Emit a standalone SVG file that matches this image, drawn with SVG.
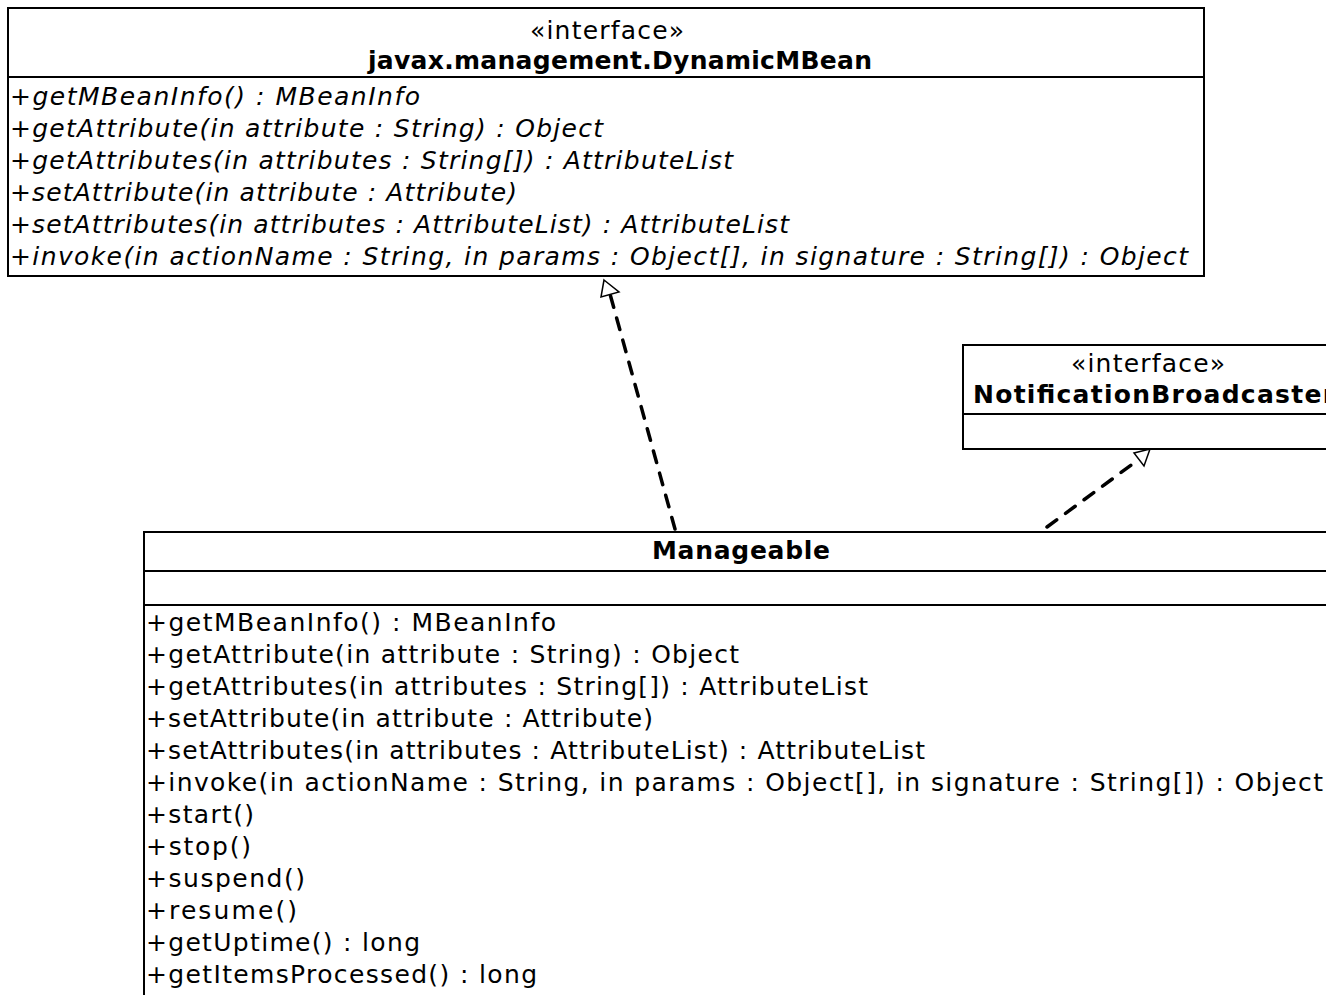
<svg xmlns="http://www.w3.org/2000/svg" width="1326" height="995" viewBox="0 0 1326 995">
<style>
.box{fill:#fff;stroke:#000;stroke-width:2}
.sep{stroke:#000;stroke-width:2}
text{font-family:"DejaVu Sans",Verdana,sans-serif;font-size:25px;fill:#000}
.c{text-anchor:middle}
.b{font-weight:bold}
.i{font-style:italic}
.dep{fill:none;stroke:#000;stroke-width:3.5;stroke-linecap:round;stroke-dasharray:12 11}
.head{fill:#fff;stroke:#000;stroke-width:1.5;stroke-linejoin:miter}
</style>
<rect width="1326" height="995" fill="#fff"/>
<g id="connectors">
<path class="dep" d="M675,529 L610,294"/>
<path class="head" d="M604,280 L619,292 L601,297 Z"/>
<path class="dep" d="M1047,527 L1138,460"/>
<path class="head" d="M1150,449 L1144,466 L1134,453 Z"/>
</g>
<g id="DynamicMBean">
<rect class="box" x="8" y="8" width="1196" height="268"/>
<line class="sep" x1="8" y1="77" x2="1204" y2="77"/>
<text class="c" x="607" y="39" textLength="154">«interface»</text>
<text class="c b" x="620" y="69" textLength="504">javax.management.DynamicMBean</text>
<text class="i" x="10" y="105" textLength="410">+getMBeanInfo() : MBeanInfo</text>
<text class="i" x="10" y="137" textLength="593">+getAttribute(in attribute : String) : Object</text>
<text class="i" x="10" y="169" textLength="723">+getAttributes(in attributes : String[]) : AttributeList</text>
<text class="i" x="10" y="201" textLength="507">+setAttribute(in attribute : Attribute)</text>
<text class="i" x="10" y="233" textLength="779">+setAttributes(in attributes : AttributeList) : AttributeList</text>
<text class="i" x="10" y="265" textLength="1178">+invoke(in actionName : String, in params : Object[], in signature : String[]) : Object</text>
</g>
<g id="NotificationBroadcaster">
<rect class="box" x="963" y="345" width="370" height="104"/>
<line class="sep" x1="963" y1="414" x2="1333" y2="414"/>
<text class="c" x="1148" y="372" textLength="154">«interface»</text>
<text class="b" x="973" y="403" textLength="362">NotificationBroadcaster</text>
</g>
<g id="Manageable">
<rect class="box" x="144" y="532" width="1196" height="480"/>
<line class="sep" x1="144" y1="571" x2="1340" y2="571"/>
<line class="sep" x1="144" y1="605" x2="1340" y2="605"/>
<text class="b" x="652" y="559" textLength="178">Manageable</text>
<text x="146" y="631" textLength="410">+getMBeanInfo() : MBeanInfo</text>
<text x="146" y="663" textLength="593">+getAttribute(in attribute : String) : Object</text>
<text x="146" y="695" textLength="722">+getAttributes(in attributes : String[]) : AttributeList</text>
<text x="146" y="727" textLength="507">+setAttribute(in attribute : Attribute)</text>
<text x="146" y="759" textLength="779">+setAttributes(in attributes : AttributeList) : AttributeList</text>
<text x="146" y="791" textLength="1177">+invoke(in actionName : String, in params : Object[], in signature : String[]) : Object</text>
<text x="146" y="823" textLength="108">+start()</text>
<text x="146" y="855" textLength="105">+stop()</text>
<text x="146" y="887" textLength="159">+suspend()</text>
<text x="146" y="919" textLength="151">+resume()</text>
<text x="146" y="951" textLength="274">+getUptime() : long</text>
<text x="146" y="983" textLength="391">+getItemsProcessed() : long</text>
</g>
</svg>
